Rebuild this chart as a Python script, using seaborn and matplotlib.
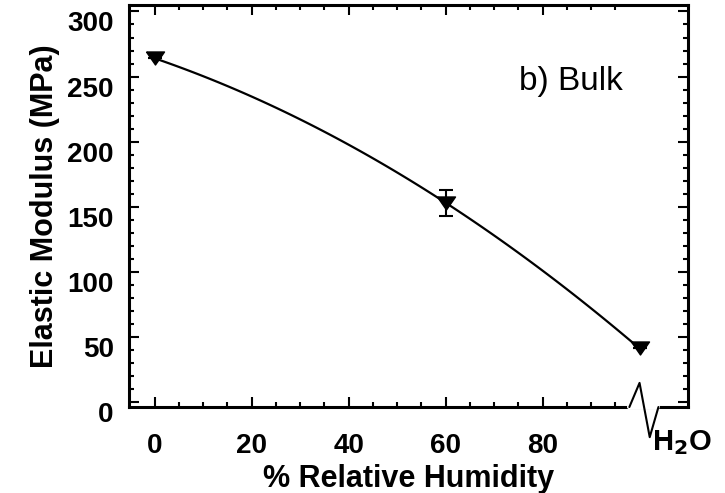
import numpy as np
import matplotlib
matplotlib.use("Agg")
import matplotlib.pyplot as plt
import matplotlib.transforms as mtransforms
import seaborn as sns

# values
humidity = [0, 60, 100]          # 100 stands for liquid water (H2O)
modulus = [264, 153, 41]         # MPa
modulus_err = [0, 10, 0]
x_major = [0, 20, 40, 60, 80]
x_minor = [5, 10, 15, 25, 30, 35, 45, 50, 55, 65, 70, 75, 85, 90, 95]
y_major = [0, 50, 100, 150, 200, 250, 300]
y_minor = [10, 20, 30, 40, 60, 70, 80, 90, 110, 120, 130, 140, 160, 170, 180,
           190, 210, 220, 230, 240, 260, 270, 280, 290]

sns.set_style("ticks", {'text.color': 'black', 'axes.labelcolor': 'black',
                        'xtick.color': 'black', 'ytick.color': 'black',
                        'axes.edgecolor': 'black'})
plt.rcParams['font.family'] = ['Liberation Sans', 'DejaVu Sans']

fig = plt.figure(figsize=(7.25, 4.93), dpi=100)
ax = fig.add_axes([0.178, 0.1744, 0.771, 0.8155])

# flattened down-pointing triangle like the original
tri = [(-1, 0.72), (1, 0.72), (0, -0.72), (-1, 0.72)]

# smooth curve through the three points
sns.regplot(x=humidity, y=modulus, order=2, ci=None, scatter=False,
            line_kws=dict(color='black', lw=1.6), ax=ax)
ax.errorbar(humidity, modulus, yerr=modulus_err, fmt='none', ecolor='black',
            capsize=5, elinewidth=1.5, capthick=1.5, zorder=4)
ax.plot(humidity, modulus, ls='none', marker=tri, ms=13, color='black',
        zorder=5)

ax.set_xlim(-5.3, 110)
ax.set_ylim(-4, 305)
ax.set_xticks(x_major)
ax.set_xticks(x_minor, minor=True)
ax.set_yticks(y_major)
ax.set_yticks(y_minor, minor=True)

for s in ax.spines.values():
    s.set_linewidth(2.2)
    s.set_color('black')
ax.tick_params(which='both', direction='in', top=True, right=True,
               width=1.5, color='black', labelcolor='black')
ax.tick_params(which='major', length=7)
ax.tick_params(which='minor', length=3.5)
ax.tick_params(axis='x', which='major', pad=19, labelsize=20)
ax.tick_params(axis='y', which='major', pad=11, labelsize=20)
for lab in ax.get_xticklabels() + ax.get_yticklabels():
    lab.set_fontweight('bold')
# y labels sit a bit below their ticks in the original
shift = mtransforms.ScaledTranslation(0, -0.1, fig.dpi_scale_trans)
for lab in ax.get_yticklabels():
    lab.set_transform(lab.get_transform() + shift)

ax.set_xlabel('% Relative Humidity', fontsize=22, fontweight='bold',
              labelpad=3, color='black')
ax.set_ylabel('Elastic Modulus (MPa)', fontsize=22, fontweight='bold',
              labelpad=5, color='black')

ax.text(0.79, 0.81, 'b) Bulk', transform=ax.transAxes, fontsize=24,
        ha='center', va='center', color='black')

# axis break before the water point
trans = mtransforms.blended_transform_factory(ax.transData, ax.transAxes)
ax.plot([97.9, 103.9], [0, 0], color='white', lw=3, transform=trans,
        clip_on=False, zorder=6)
ax.plot([97.9, 100, 102.1, 103.9], [0, 0.06, -0.075, 0], color='black',
        lw=1.5, transform=trans, clip_on=False, zorder=7)
ax.text(108.7, -0.107, 'H$_\\mathbf{2}$O', transform=trans, fontsize=21,
        fontweight='bold', ha='center', va='baseline', color='black')

fig.savefig('out.png', dpi=100)
